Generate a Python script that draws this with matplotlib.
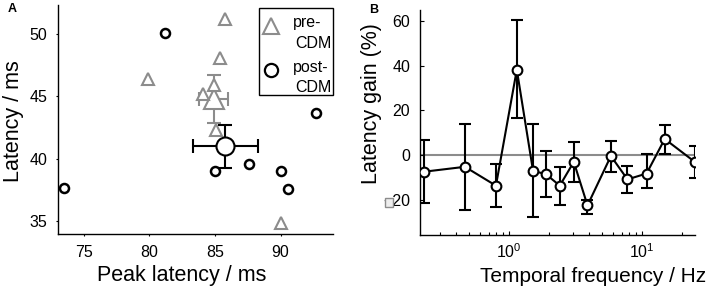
import numpy as np
import matplotlib.pyplot as plt
from matplotlib.patches import Rectangle
from matplotlib.lines import Line2D

plt.rcParams['font.family'] = ['Liberation Sans', 'DejaVu Sans']
plt.rcParams['mathtext.fontset'] = 'custom'
plt.rcParams['mathtext.rm'] = 'Liberation Sans'
plt.rcParams['mathtext.it'] = 'Liberation Sans:italic'

# ---- panel A data: individual latencies ----
post_x = [73.5, 81.2, 85.0, 87.6, 90.0, 90.6, 92.7]
post_y = [37.7, 50.1, 39.0, 39.6, 39.0, 37.6, 43.7]
pre_x = [85.8, 85.4, 79.9, 84.9, 84.1, 85.1, 90.0]
pre_y = [51.2, 48.1, 46.4, 45.9, 45.2, 42.3, 34.9]

# means +/- error
post_mean = (85.8, 41.0)
post_err = (2.5, 1.7)
pre_mean = (84.9, 44.8)
pre_err = (1.1, 1.9)

# ---- panel B data: latency gain vs temporal frequency ----
freq = [0.228, 0.464, 0.794, 1.14, 1.51, 1.89, 2.40, 3.06, 3.88, 5.82, 7.76, 10.8, 14.8, 24.9]
gain = [-7.3, -5.1, -13.5, 38.2, -6.9, -8.4, -13.5, -2.9, -22.3, -0.3, -10.7, -8.1, 7.3, -2.9]
err_hi = [6.9, 14.0, -4.0, 60.3, 14.0, 1.9, -5.1, 5.9, -19.7, 6.3, -4.7, 0.5, 13.7, 4.1]
err_lo = [-21.3, -24.3, -23.2, 16.6, -27.5, -18.4, -22.0, -11.8, -26.0, -7.3, -16.9, -14.7, 0.7, -10.0]

gray = '#8c8c8c'
W, H = 709, 290


def px(x, y):
    # pixel position (from top-left) -> figure fraction
    return x / W, 1 - y / H


fig = plt.figure(figsize=(7.09, 2.90), dpi=100)

# =============================================================================
# Panel A
# =============================================================================
axA = fig.add_axes([57.5 / W, 1 - 234 / H, 275.5 / W, 229 / H])

axA.errorbar(pre_mean[0], pre_mean[1], xerr=pre_err[0], yerr=pre_err[1],
             fmt='^', ms=15, mfc='white', mec=gray, mew=1.5, color=gray,
             elinewidth=1.5, capsize=5, capthick=1.5, zorder=3)
axA.plot(pre_x, pre_y, '^', ms=8, mfc='white', mec=gray, mew=1.5, zorder=4)
axA.errorbar(post_mean[0], post_mean[1], xerr=post_err[0], yerr=post_err[1],
             fmt='o', ms=13, mfc='white', mec='black', mew=1.5, color='black',
             elinewidth=1.5, capsize=5, capthick=1.5, zorder=5)
axA.plot(post_x, post_y, 'o', ms=6.5, mfc='white', mec='black', mew=1.8, zorder=6)

axA.set_xlim(73, 94)
axA.set_ylim(34, 52.3)
axA.set_xticks([75, 80, 85, 90])
axA.set_yticks([35, 40, 45, 50])
axA.tick_params(direction='out', length=1.5)
axA.tick_params(axis='x', pad=6.5)
axA.tick_params(axis='y', pad=6)

# legend drawn by hand as a box with markers and two-line labels
fig.patches.append(Rectangle(px(258.5, 95), 74 / W, 87 / H, transform=fig.transFigure,
                             facecolor='white', edgecolor='black', lw=1.0, zorder=10))
fig.lines.append(Line2D([270.7 / W], [1 - 26 / H], marker='^', ms=12, mfc='white',
                        mec=gray, mew=1.5, transform=fig.transFigure, zorder=11))
fig.lines.append(Line2D([270.7 / W], [1 - 70 / H], marker='o', ms=9.5, mfc='white',
                        mec='black', mew=1.6, transform=fig.transFigure, zorder=11))
legend_lines = [('pre-', 292.5, 27), ('CDM', 295, 48), ('post-', 292.5, 72), ('CDM', 295, 92)]
for txt, lx, ly in legend_lines:
    fig.text(*px(lx, ly), txt, fontsize=11.5, ha='left', va='baseline', zorder=12)

fig.text(*px(182, 281.5), 'Peak latency / ms', fontsize=15.5, ha='center', va='baseline')
fig.text(*px(13.5, 121), 'Latency / ms', fontsize=15.5, rotation=90, ha='center', va='center')

# =============================================================================
# Panel B
# =============================================================================
axB = fig.add_axes([420 / W, 1 - 235 / H, 275 / W, 225 / H])

axB.axhline(0, color=gray, lw=1.5, zorder=1)
gain_a = np.array(gain)
yerr = [gain_a - np.array(err_lo), np.array(err_hi) - gain_a]
axB.errorbar(freq, gain, yerr=yerr, fmt='-o', color='black', lw=1.5,
             ms=7, mfc='white', mec='black', mew=1.5,
             elinewidth=1.5, capsize=4, capthick=1.5, zorder=3)

axB.set_xscale('log')
axB.set_xlim(0.213, 25)
axB.set_ylim(-35.5, 64.8)
axB.set_yticks([-20, 0, 20, 40, 60])
axB.tick_params(direction='in', length=3)
axB.tick_params(which='minor', direction='in', length=2, width=0.8)
axB.tick_params(axis='x', pad=5)
axB.tick_params(axis='y', pad=7)

fig.text(*px(706, 281.5), 'Temporal frequency / Hz', fontsize=15, ha='right', va='baseline')
fig.text(*px(371, 104), 'Latency gain (%)', fontsize=15.5, rotation=90, ha='center', va='center')

for ax in (axA, axB):
    for s in ('top', 'right'):
        ax.spines[s].set_visible(False)
    for s in ('left', 'bottom'):
        ax.spines[s].set_linewidth(1.0)
    ax.tick_params(labelsize=11.5, width=0.8)

# small gray box over the minus sign of the "-20" tick label
fig.canvas.draw()
renderer = fig.canvas.get_renderer()
probe = fig.text(0, 0, '20', fontsize=11.5)
digits_w = probe.get_window_extent(renderer).width
probe.remove()
for lab in axB.get_yticklabels():
    t = lab.get_text()
    if t.endswith('20') and not t.startswith('2'):
        bb = lab.get_window_extent(renderer)
        ymid = (bb.y0 + bb.y1) / 2
        right = bb.x1 - digits_w
        fig.patches.append(Rectangle(((right - 8) / W, (ymid - 5) / H), 8 / W, 9 / H,
                                     transform=fig.transFigure, facecolor='#eeeeee',
                                     edgecolor=gray, lw=1.0, zorder=10))

fig.text(*px(12.5, 9), 'A', fontsize=9, fontweight='bold', ha='center', va='center')
fig.text(*px(374, 10), 'B', fontsize=9, fontweight='bold', ha='center', va='center')

fig.savefig('out.png', dpi=100)
